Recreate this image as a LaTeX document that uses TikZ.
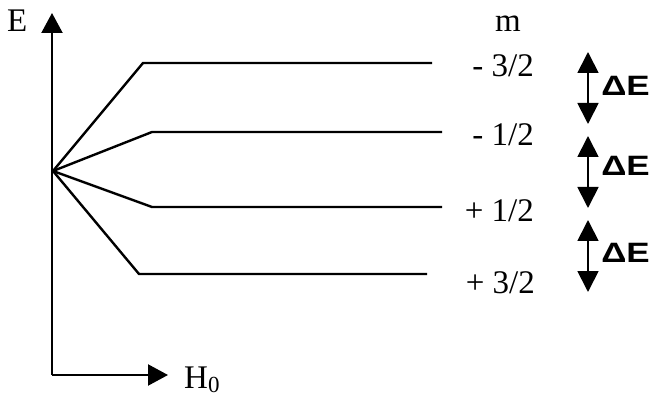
\documentclass[tikz,border=0pt]{standalone}
\usepackage{fontspec}
\setmainfont{Liberation Serif}
\newfontfamily\dEfont{Liberation Sans}
\usetikzlibrary{arrows.meta}
\begin{document}
\begin{tikzpicture}[x=1pt,y=-1pt,
  lvl/.style={line width=2.4pt,line join=miter},
  axis/.style={line width=2.2pt,-{Triangle[length=20pt,width=21pt]}},
  gap/.style={line width=1.8pt,{Triangle[length=21pt,width=21pt]}-{Triangle[length=21pt,width=21pt]}},
  txt/.style={font=\fontsize{33}{34}\selectfont,inner sep=0pt},
  lab/.style={txt,anchor=base east},
  de/.style={font=\dEfont\bfseries\fontsize{28}{29}\selectfont,inner sep=0pt,anchor=west,xscale=1.25}]
\useasboundingbox (0,0) rectangle (654,401);
% axes
\coordinate (O) at (52,375);
\coordinate (Etip) at (52,13);
\coordinate (Htip) at (168,375);
\draw[axis] (O) -- (Etip);
\draw[axis] (O) -- (Htip);
\node[txt,anchor=base west] (E) at (7,32) {E};
\node[txt,anchor=base west] (H) at (184,388) {H\raisebox{-0.14em}{\fontsize{23}{23}\selectfont 0}};
% levels
\coordinate (S) at (53,171);
\coordinate (k1) at (143,63);  \coordinate (e1) at (432,63);
\coordinate (k2) at (152,132); \coordinate (e2) at (442,132);
\coordinate (k3) at (152,207); \coordinate (e3) at (442,207);
\coordinate (k4) at (139,274); \coordinate (e4) at (427,274);
\draw[lvl] (S) -- (k1) -- (e1);
\draw[lvl] (S) -- (k2) -- (e2);
\draw[lvl] (S) -- (k3) -- (e3);
\draw[lvl] (S) -- (k4) -- (e4);
% m labels
\node[txt,anchor=base] (m) at (508,32) {m};
\node[lab] (l1) at (534,77) {- 3/2};
\node[lab] (l2) at (534,146) {- 1/2};
\node[lab] (l3) at (534,222) {+ 1/2};
\node[lab] (l4) at (535,293) {+ 3/2};
% Delta E arrows
\coordinate (a1) at (588,52);  \coordinate (b1) at (588,124);
\coordinate (a2) at (588,136); \coordinate (b2) at (588,208);
\coordinate (a3) at (588,220); \coordinate (b3) at (588,292);
\draw[gap] (a1) -- (b1);
\draw[gap] (a2) -- (b2);
\draw[gap] (a3) -- (b3);
\node[de] (d1) at (601,86) {ΔE};
\node[de] (d2) at (601,166) {ΔE};
\node[de] (d3) at (601,253) {ΔE};
\end{tikzpicture}
\end{document}
